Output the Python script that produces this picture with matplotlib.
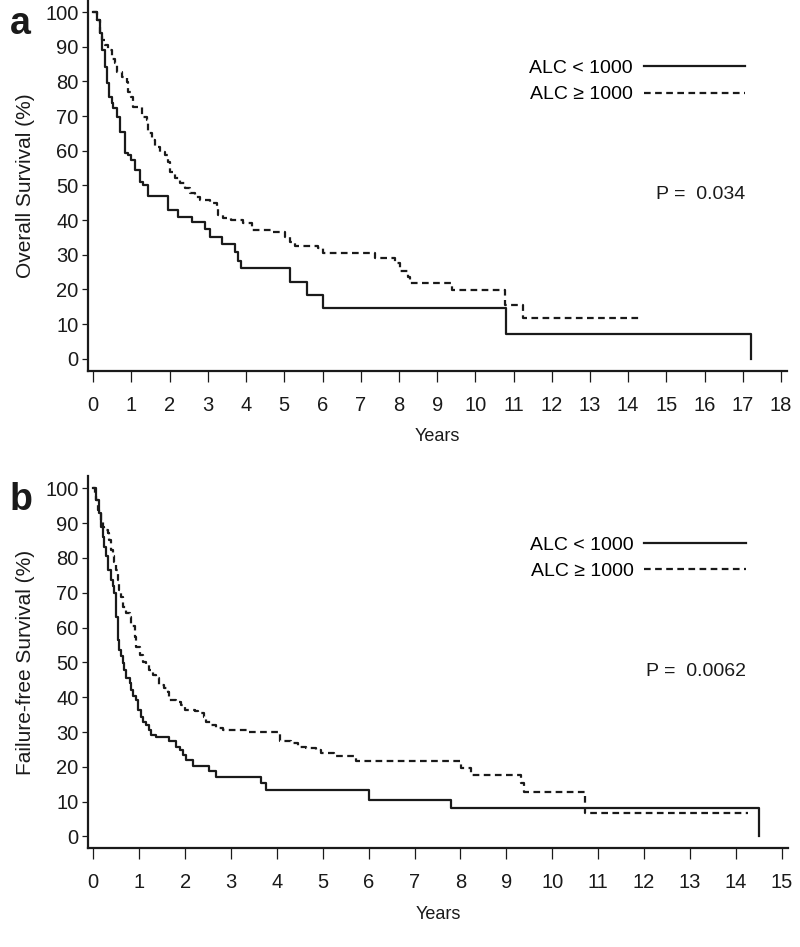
import matplotlib
matplotlib.use('Agg')
import matplotlib.pyplot as plt
from matplotlib.lines import Line2D

plt.rcParams['font.family'] = ['Liberation Sans', 'DejaVu Sans']

# Panel a: overall survival (years, % surviving after the step)
os_low_t = [0, 0.09, 0.17, 0.22, 0.31, 0.35, 0.40, 0.48, 0.52, 0.61, 0.70, 0.83, 0.92, 1.00,
            1.09, 1.22, 1.31, 1.44, 1.96, 2.23, 2.58, 2.92, 3.05, 3.36, 3.71, 3.80, 3.87,
            5.15, 5.59, 6.00, 10.80, 17.21]
os_low_s = [100, 97.7, 93.9, 89.0, 84.2, 79.4, 75.6, 73.7, 72.2, 69.8, 65.5, 59.3, 58.8, 57.3,
            54.5, 51.1, 50.1, 47.1, 42.9, 40.8, 39.4, 37.4, 35.1, 33.1, 30.7, 28.2, 26.3,
            22.3, 18.4, 14.6, 7.1, 0]

os_high_t = [0, 0.09, 0.18, 0.22, 0.31, 0.39, 0.48, 0.57, 0.61, 0.74, 0.87, 0.90, 1.00, 1.05,
             1.27, 1.40, 1.44, 1.53, 1.62, 1.75, 1.88, 1.96, 2.01, 2.14, 2.27, 2.40, 2.53,
             2.66, 2.79, 3.05, 3.23, 3.27, 3.40, 3.60, 3.93, 4.15, 4.67, 5.02, 5.15, 5.28,
             5.89, 6.02, 7.37, 7.90, 8.03, 8.25, 8.29, 9.38, 10.78, 11.26, 14.31]
os_high_s = [100, 97.7, 93.9, 91.9, 90.5, 89.0, 86.6, 85.2, 82.8, 81.4, 79.9, 77.0, 75.6, 72.7,
             69.8, 68.9, 65.0, 63.1, 61.2, 59.7, 58.8, 56.9, 54.0, 52.1, 50.6, 49.2, 47.8,
             46.8, 45.8, 44.9, 43.4, 41.5, 40.5, 40.0, 39.3, 37.2, 36.7, 35.2, 33.8, 32.6,
             31.9, 30.5, 29.0, 27.6, 25.2, 23.5, 21.8, 19.9, 15.6, 11.7, 11.7]

# Panel b: failure-free survival
ffs_low_t = [0, 0.06, 0.135, 0.17, 0.21, 0.24, 0.28, 0.32, 0.39, 0.43, 0.46, 0.50, 0.53, 0.57,
             0.61, 0.64, 0.68, 0.72, 0.79, 0.83, 0.86, 0.93, 0.97, 1.04, 1.08, 1.15, 1.22,
             1.26, 1.37, 1.65, 1.81, 1.88, 1.95, 2.02, 2.17, 2.53, 2.68, 3.66, 3.77, 6.00,
             7.80, 14.50]
ffs_low_s = [100, 96.6, 92.8, 89.0, 86.1, 83.2, 80.4, 76.5, 73.7, 71.8, 69.9, 63.1, 56.4, 53.6,
             51.7, 49.8, 47.8, 45.5, 44.0, 42.1, 40.2, 39.2, 36.4, 34.4, 33.0, 32.1, 30.6,
             29.2, 28.5, 27.3, 25.8, 24.9, 23.4, 22.0, 20.1, 18.7, 17.2, 15.3, 13.4, 10.5,
             8.1, 0]

ffs_high_t = [0, 0.03, 0.06, 0.10, 0.135, 0.17, 0.21, 0.24, 0.32, 0.35, 0.39, 0.43, 0.46, 0.50,
              0.53, 0.57, 0.61, 0.64, 0.72, 0.79, 0.83, 0.90, 0.93, 1.01, 1.08, 1.15, 1.22,
              1.30, 1.37, 1.44, 1.55, 1.62, 1.66, 1.81, 1.91, 1.99, 2.21, 2.28, 2.42, 2.46,
              2.57, 2.68, 2.82, 3.37, 4.06, 4.31, 4.46, 4.64, 4.86, 4.96, 5.25, 5.73, 8.01,
              8.23, 9.32, 9.39, 10.72, 14.26]
ffs_high_s = [100, 98.6, 96.6, 93.8, 92.8, 90.9, 89.0, 88.0, 87.1, 85.2, 82.3, 80.4, 78.9, 76.5,
              73.7, 70.8, 68.9, 66.0, 64.1, 63.1, 60.3, 57.4, 54.5, 52.2, 50.2, 49.3, 47.8,
              46.4, 45.5, 43.5, 42.6, 41.6, 39.2, 38.7, 37.8, 36.4, 35.9, 35.4, 34.4, 33.0,
              32.1, 31.1, 30.6, 30.1, 27.3, 26.8, 25.8, 25.4, 24.9, 23.9, 23.0, 21.7, 19.6,
              17.7, 15.3, 12.9, 6.7, 6.7]

labels = ['ALC < 1000', 'ALC \u2265 1000']

fig = plt.figure(figsize=(8, 9.47), dpi=100)
ax_a = fig.add_axes([0.1104, 0.6086, 0.873, 0.3915])
ax_b = fig.add_axes([0.1104, 0.1042, 0.874, 0.3931])

panels = [
    (ax_a, os_low_t, os_low_s, os_high_t, os_high_s, 18, 'Overall Survival (%)', 'P =  0.034', 'a'),
    (ax_b, ffs_low_t, ffs_low_s, ffs_high_t, ffs_high_s, 15, 'Failure-free Survival (%)', 'P =  0.0062', 'b'),
]

for ax, lt, ls, ht, hs, xmax, ylab, ptxt, letter in panels:
    ax.step(lt, ls, where='post', color='#1a1a1a', lw=1.6)
    ax.step(ht, hs, where='post', color='#1a1a1a', lw=1.6, dashes=(3, 2))

    ax.set_xlim(-0.0072 * xmax, xmax * 1.0083)
    ax.set_ylim(-3.4, 103.5)
    ax.set_xticks(range(0, xmax + 1))
    ax.set_yticks(range(0, 101, 10))
    for s in ['top', 'right']:
        ax.spines[s].set_visible(False)
    for s in ['left', 'bottom']:
        ax.spines[s].set_linewidth(1.6)
        ax.spines[s].set_color('#1a1a1a')
    ax.tick_params(axis='x', direction='out', length=8, width=0.9, pad=10, labelsize=14.5,
                   colors='#1a1a1a')
    ax.tick_params(axis='y', direction='out', length=4, width=0.9, pad=3, labelsize=14.5,
                   colors='#1a1a1a')

    ax.set_xlabel('Years', fontsize=13, color='#1a1a1a')
    ax.xaxis.set_label_coords(0.5, -0.155)
    ax.set_ylabel(ylab, fontsize=15, color='#1a1a1a')
    ax.yaxis.set_label_coords(-0.076, 0.5)

    handles = [Line2D([], [], color='#1a1a1a', lw=1.6),
               Line2D([], [], color='#1a1a1a', lw=1.6, dashes=(3, 2))]
    ax.legend(handles, labels, markerfirst=False, frameon=False, fontsize=14,
              loc='center right', bbox_to_anchor=(0.94, 0.78), borderaxespad=0,
              borderpad=0, handlelength=5.2, handletextpad=0.55, labelspacing=0.45)
    ax.text(0.94, 0.476, ptxt, transform=ax.transAxes, ha='right', va='center',
            fontsize=14, color='#1a1a1a')

    pos = ax.get_position()
    fig.text(0.012, pos.y1 - 0.006, letter, fontsize=27, fontweight='bold', va='top',
             ha='left', color='#1a1a1a')

fig.savefig('out.png', dpi=100)
